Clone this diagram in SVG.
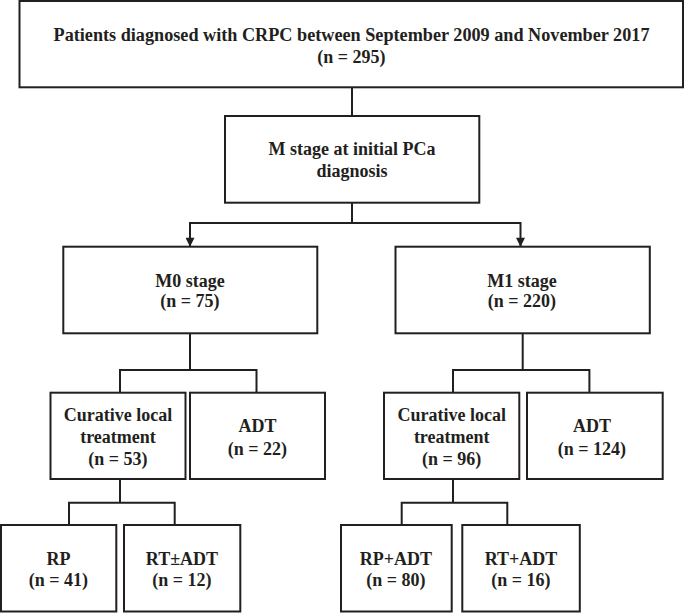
<svg xmlns="http://www.w3.org/2000/svg" width="685" height="613" viewBox="0 0 685 613">
<style>
.box{fill:#fff;stroke:#231f20;stroke-width:2}
.ln{fill:none;stroke:#231f20;stroke-width:2}
text{font-family:"Liberation Serif","Times New Roman",serif;font-weight:bold;font-size:18px;fill:#231f20;text-anchor:middle}
</style>
<defs>
<marker id="arr" viewBox="0 0 10 10" refX="10" refY="5" markerWidth="10" markerHeight="9" markerUnits="userSpaceOnUse" orient="auto">
<path d="M0,0 L10,5 L0,10 z" fill="#231f20"/>
</marker>
</defs>
<rect width="685" height="613" fill="#fff"/>
<g id="connectors">
<path class="ln" d="M352 87.3 V116"/>
<path class="ln" d="M352 202.7 V223"/>
<path class="ln" d="M352 223 H190 V246.7" marker-end="url(#arr)"/>
<path class="ln" d="M352 223 H520.5 V246.7" marker-end="url(#arr)"/>
<path class="ln" d="M190 333.3 V370"/>
<path class="ln" d="M120 392.7 V370 H256.5 V392.7"/>
<path class="ln" d="M522.7 333.3 V370"/>
<path class="ln" d="M453 392.7 V370 H589.4 V392.7"/>
<path class="ln" d="M120 479 V502.7"/>
<path class="ln" d="M69 525 V502.7 H174.7 V525"/>
<path class="ln" d="M453 479 V502.7"/>
<path class="ln" d="M401.7 525 V502.7 H507.3 V525"/>
</g>
<g id="top">
<rect class="box" x="19.5" y="1" width="663.5" height="86.3"/>
<text x="351.5" y="40.5" style="font-size:18.2px">Patients diagnosed with CRPC between September 2009 and November 2017</text>
<text x="351.5" y="63">(n = 295)</text>
</g>
<g id="mstage">
<rect class="box" x="225" y="116" width="254.3" height="86.7"/>
<text x="352" y="155">M stage at initial PCa</text>
<text x="352" y="177">diagnosis</text>
</g>
<g id="m0">
<rect class="box" x="63.3" y="246.7" width="254" height="86.6"/>
<text x="190" y="286.7">M0 stage</text>
<text x="190" y="307">(n = 75)</text>
</g>
<g id="m1">
<rect class="box" x="395.5" y="246.7" width="254.3" height="86.6"/>
<text x="522" y="286.7">M1 stage</text>
<text x="522" y="307">(n = 220)</text>
</g>
<g id="cur0">
<rect class="box" x="50.5" y="392.7" width="135" height="86.3"/>
<text x="118" y="420.7">Curative local</text>
<text x="118" y="442.7">treatment</text>
<text x="118" y="464.5">(n = 53)</text>
</g>
<g id="adt0">
<rect class="box" x="190" y="392.7" width="135" height="86.3"/>
<text x="257.5" y="431.7">ADT</text>
<text x="257.5" y="455">(n = 22)</text>
</g>
<g id="cur1">
<rect class="box" x="384" y="392.7" width="135.3" height="86.3"/>
<text x="451.7" y="420.7">Curative local</text>
<text x="451.7" y="442.7">treatment</text>
<text x="451.7" y="464.5">(n = 96)</text>
</g>
<g id="adt1">
<rect class="box" x="527" y="392.7" width="135.7" height="86.3"/>
<text x="592" y="431.7">ADT</text>
<text x="592" y="455">(n = 124)</text>
</g>
<g id="rp">
<rect class="box" x="1" y="525" width="115.3" height="86.5"/>
<text x="58.5" y="565">RP</text>
<text x="58.5" y="586">(n = 41)</text>
</g>
<g id="rt0">
<rect class="box" x="124" y="525" width="116.3" height="86.5"/>
<text x="182" y="565">RT±ADT</text>
<text x="182" y="586">(n = 12)</text>
</g>
<g id="rpadt">
<rect class="box" x="341" y="525" width="110.7" height="86.5"/>
<text x="396" y="565">RP+ADT</text>
<text x="396" y="586">(n = 80)</text>
</g>
<g id="rtadt">
<rect class="box" x="462.3" y="525" width="117.5" height="86.5"/>
<text x="521" y="565">RT+ADT</text>
<text x="521" y="586">(n = 16)</text>
</g>
</svg>
